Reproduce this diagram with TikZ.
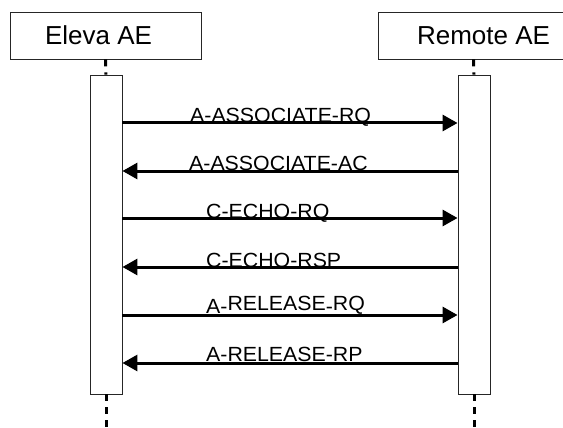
\documentclass[tikz,border=0pt]{standalone}
\usepackage{fontspec}
\setmainfont{Liberation Sans}
\usetikzlibrary{arrows.meta}
\tikzset{
  hdrbox/.style={draw=black!85, line width=0.9pt, minimum width=191pt, minimum height=47pt, inner sep=0pt},
  hdrtext/.style={font=\fontsize{26}{30}\selectfont, inner sep=0pt, anchor=base},
  actbox/.style={draw=black!85, line width=0.9pt, fill=white, minimum width=32pt, minimum height=319pt, inner sep=0pt},
  lifeline/.style={line width=3pt, dash pattern=on 7pt off 6pt},
  msg/.style={line width=3pt, -{Triangle[length=15pt,width=16pt]}},
  msgtext/.style={font=\fontsize{20.5}{24}\selectfont, inner sep=0pt, anchor=base west},
}
\newcommand{\wide}[1]{\scalebox{1.04}[1]{#1}}
\begin{document}
\begin{tikzpicture}[x=1pt,y=-1pt]
\useasboundingbox (0,0) rectangle (563,428);
\clip (0,0) rectangle (563,428);
% headers
\node[hdrbox] (hL) at (105.5,35.5) {};
\node[hdrbox] (hR) at (473.5,35.5) {};
\node[hdrtext] (tL) at (98.5,45) {Eleva AE};
\node[hdrtext] (tR) at (483.5,45) {Remote AE};
% activation boxes
\node[actbox] (aL) at (106,234.5) {};
\node[actbox] (aR) at (474,234.5) {};
% lifelines
\coordinate (endL) at (106,432);
\coordinate (endR) at (474,432);
\draw[lifeline] (hL.south) -- (aL.north);
\draw[lifeline] (hR.south) -- (aR.north);
\draw[lifeline] (aL.south) -- (endL);
\draw[lifeline] (aR.south) -- (endR);
% labels (drawn first, arrows over them)
\node[msgtext] (l1) at (190,123) {\wide{A-ASSOCIATE-RQ}};
\node[msgtext] (l2) at (189,170) {\wide{A-ASSOCIATE-AC}};
\node[msgtext] (l3) at (206,218) {\wide{C-ECHO-RQ}};
\node[msgtext] (l4) at (206,267) {\wide{C-ECHO-RSP}};
\node[msgtext] (l5) at (206,310) {\wide{\raisebox{-3pt}{A-}RELEASE\raisebox{-3pt}{-}RQ}};
\node[msgtext] (l6) at (206,361.5) {\wide{A-RELEASE-RP}};
% message levels
\coordinate (m1) at (0,123);
\coordinate (m2) at (0,171);
\coordinate (m3) at (0,218);
\coordinate (m4) at (0,267);
\coordinate (m5) at (0,315);
\coordinate (m6) at (0,363);
\draw[msg] (aL.east |- m1) -- (aR.west |- m1);
\draw[msg] (aR.west |- m2) -- (aL.east |- m2);
\draw[msg] (aL.east |- m3) -- (aR.west |- m3);
\draw[msg] (aR.west |- m4) -- (aL.east |- m4);
\draw[msg] (aL.east |- m5) -- (aR.west |- m5);
\draw[msg] (aR.west |- m6) -- (aL.east |- m6);
\end{tikzpicture}
\end{document}
